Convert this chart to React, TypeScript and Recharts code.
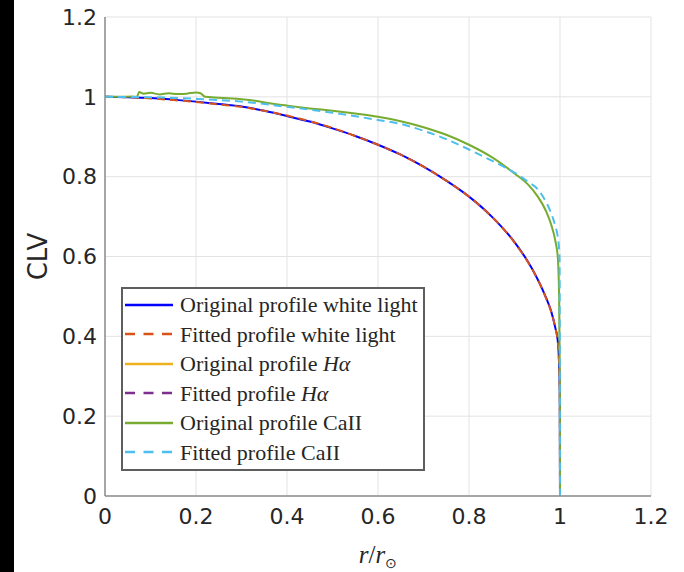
import React from 'react';
import { LineChart, Line, XAxis, YAxis, CartesianGrid, Legend } from 'recharts';

// r / r_sun sample positions and CLV values
const rWhite = [0, 0.05, 0.1, 0.15, 0.2, 0.25, 0.3, 0.35, 0.4, 0.45, 0.5, 0.55, 0.6, 0.65, 0.7, 0.75, 0.8, 0.85, 0.9, 0.93, 0.95, 0.97, 0.98, 0.99, 0.995, 0.998, 0.9995, 1.0];
const clvWhite = [1.0, 0.999, 0.997, 0.993, 0.988, 0.982, 0.976, 0.965, 0.952, 0.938, 0.921, 0.902, 0.88, 0.855, 0.825, 0.79, 0.75, 0.7, 0.636, 0.586, 0.545, 0.495, 0.465, 0.42, 0.39, 0.33, 0.25, 0];
const clvWhiteFit = [1.0, 0.999, 0.996, 0.992, 0.987, 0.981, 0.975, 0.965, 0.953, 0.939, 0.922, 0.902, 0.88, 0.855, 0.825, 0.79, 0.75, 0.7, 0.635, 0.585, 0.545, 0.494, 0.464, 0.42, 0.388, 0.33, 0.25, 0];

const rCa = [0, 0.03, 0.06, 0.07, 0.075, 0.085, 0.1, 0.12, 0.14, 0.16, 0.18, 0.2, 0.21, 0.22, 0.25, 0.28, 0.3, 0.33, 0.36, 0.4, 0.45, 0.5, 0.55, 0.6, 0.65, 0.7, 0.75, 0.8, 0.85, 0.9, 0.93, 0.95, 0.97, 0.98, 0.99, 0.995, 0.998, 0.9995, 1.0];
const clvCa = [1.0, 1.0, 1.001, 1.0, 1.012, 1.008, 1.01, 1.006, 1.009, 1.007, 1.008, 1.011, 1.009, 1.0, 0.998, 0.996, 0.994, 0.99, 0.984, 0.978, 0.971, 0.965, 0.958, 0.95, 0.939, 0.924, 0.905, 0.88, 0.849, 0.808, 0.78, 0.752, 0.712, 0.682, 0.638, 0.6, 0.5, 0.3, 0];

const rCaFit = [0, 0.1, 0.2, 0.3, 0.4, 0.5, 0.6, 0.65, 0.7, 0.75, 0.8, 0.85, 0.9, 0.93, 0.95, 0.97, 0.98, 0.99, 0.995, 0.999, 1.0];
const clvCaFit = [1.0, 0.999, 0.995, 0.988, 0.975, 0.96, 0.942, 0.932, 0.915, 0.894, 0.868, 0.84, 0.81, 0.787, 0.77, 0.735, 0.71, 0.675, 0.65, 0.6, 0];

const xTicks = [0, 0.2, 0.4, 0.6, 0.8, 1, 1.2];
const yTicks = [0, 0.2, 0.4, 0.6, 0.8, 1, 1.2];

const legendNames = [
  'Original profile white light',
  'Fitted profile white light',
  'Original profile Hα',
  'Fitted profile Hα',
  'Original profile CaII',
  'Fitted profile CaII',
];
const legendColors = ['#0000ff', '#D95319', '#EDB120', '#7E2F8E', '#77AC30', '#4DBEEE'];
const legendDashed = [false, true, false, true, false, true];

const whiteData = rWhite.map((r, i) => ({ r, v: clvWhite[i] }));
const whiteFitData = rWhite.map((r, i) => ({ r, v: clvWhiteFit[i] }));
const caData = rCa.map((r, i) => ({ r, v: clvCa[i] }));
const caFitData = rCaFit.map((r, i) => ({ r, v: clvCaFit[i] }));

const TICK_FONT = { fontSize: 22, fill: '#262626', fontFamily: '"DejaVu Sans", sans-serif' };
const AXIS_LINE = { stroke: '#8c8c8c', strokeWidth: 1.5 };
const INNER_TICK = { stroke: '#262626', strokeWidth: 1 };

const renderName = (n: string) => {
  if (n.endsWith('Hα')) {
    return (
      <>
        {n.slice(0, -2)}
        <span style={{ fontStyle: 'italic' }}>Hα</span>
      </>
    );
  }
  return n;
};

const LegendBox = () => (
  <div
    style={{
      width: 304,
      height: 184,
      boxSizing: 'border-box',
      border: '2px solid #5e5e5e',
      background: '#fff',
      paddingTop: 1,
    }}
  >
    {legendNames.map((n, i) => (
      <div key={n} style={{ display: 'flex', alignItems: 'center', height: 29.5 }}>
        <svg width={57} height={10} style={{ flex: 'none' }}>
          <line
            x1={2}
            x2={50}
            y1={5}
            y2={5}
            stroke={legendColors[i]}
            strokeWidth={2.5}
            strokeDasharray={legendDashed[i] ? '10 8.5' : undefined}
          />
        </svg>
        <span
          style={{
            fontFamily: '"Liberation Serif", serif',
            fontSize: 22,
            color: '#262626',
            whiteSpace: 'nowrap',
            lineHeight: '29.5px',
          }}
        >
          {renderName(n)}
        </span>
      </div>
    ))}
  </div>
);

const XLabel = (props: any) => {
  const vb = props.viewBox || { x: 105, y: 496, width: 546, height: 76 };
  return (
    <text
      x={vb.x + vb.width / 2}
      y={vb.y + 67}
      textAnchor="middle"
      fontFamily='"Liberation Serif", serif'
      fontSize={25}
      fill="#262626"
    >
      <tspan fontStyle="italic">r</tspan>
      <tspan>/</tspan>
      <tspan fontStyle="italic">r</tspan>
      <tspan fontSize={14} dy={5}>⊙</tspan>
    </text>
  );
};

const YLabel = (props: any) => {
  const vb = props.viewBox || { x: 14, y: 17, width: 91, height: 479 };
  const cx = vb.x + 24;
  const cy = vb.y + vb.height / 2;
  return (
    <text
      x={cx}
      y={cy}
      textAnchor="middle"
      dominantBaseline="central"
      transform={`rotate(-90, ${cx}, ${cy})`}
      fontFamily='"DejaVu Sans", sans-serif'
      fontSize={26}
      fill="#262626"
    >
      CLV
    </text>
  );
};

export default function App() {
  return (
    <div style={{ position: 'absolute', left: 0, top: 0, width: 684, height: 572, background: '#fff' }}>
      <div style={{ position: 'absolute', left: 0, top: 0, width: 14, height: 572, background: '#000' }} />
      <LineChart width={684} height={572} margin={{ top: 17, right: 33, bottom: 0, left: 14 }}>
        <CartesianGrid stroke="#e3e3e3" strokeWidth={1} />
        <XAxis
          dataKey="r"
          type="number"
          domain={[0, 1.2]}
          ticks={xTicks}
          interval={0}
          allowDataOverflow
          height={76}
          tickLine={false}
          tickSize={0}
          tickMargin={12}
          tick={TICK_FONT}
          axisLine={AXIS_LINE}
          label={<XLabel />}
        />
        <XAxis
          xAxisId="xb"
          type="number"
          domain={[0, 1.2]}
          ticks={xTicks}
          interval={0}
          allowDataOverflow
          orientation="bottom"
          mirror
          height={0}
          tickSize={5}
          tickFormatter={() => ''}
          axisLine={false}
          tickLine={INNER_TICK}
        />
        <XAxis
          xAxisId="xt"
          type="number"
          domain={[0, 1.2]}
          ticks={xTicks}
          interval={0}
          allowDataOverflow
          orientation="top"
          mirror
          height={0}
          tickSize={5}
          tickFormatter={() => ''}
          axisLine={AXIS_LINE}
          tickLine={INNER_TICK}
        />
        <YAxis
          type="number"
          domain={[0, 1.2]}
          ticks={yTicks}
          interval={0}
          allowDataOverflow
          width={91}
          tickLine={false}
          tickSize={0}
          tickMargin={8}
          tick={TICK_FONT}
          axisLine={AXIS_LINE}
          label={<YLabel />}
        />
        <YAxis
          yAxisId="yl"
          type="number"
          domain={[0, 1.2]}
          ticks={yTicks}
          interval={0}
          allowDataOverflow
          orientation="left"
          mirror
          width={0}
          tickSize={5}
          tickFormatter={() => ''}
          axisLine={false}
          tickLine={INNER_TICK}
        />
        <YAxis
          yAxisId="yr"
          type="number"
          domain={[0, 1.2]}
          ticks={yTicks}
          interval={0}
          allowDataOverflow
          orientation="right"
          mirror
          width={0}
          tickSize={5}
          tickFormatter={() => ''}
          axisLine={AXIS_LINE}
          tickLine={INNER_TICK}
        />
        <Line data={whiteData} dataKey="v" type="monotone" stroke="#0000ff" strokeWidth={2} dot={false} isAnimationActive={false} name={legendNames[0]} />
        <Line data={whiteFitData} dataKey="v" type="monotone" stroke="#D95319" strokeWidth={2} strokeDasharray="8 5" dot={false} isAnimationActive={false} name={legendNames[1]} />
        <Line data={caData} dataKey="v" type="monotone" stroke="#77AC30" strokeWidth={2} dot={false} isAnimationActive={false} name={legendNames[4]} />
        <Line data={caFitData} dataKey="v" type="monotone" stroke="#4DBEEE" strokeWidth={2} strokeDasharray="8 5" dot={false} isAnimationActive={false} name={legendNames[5]} />
        <Legend
          layout="vertical"
          align="center"
          verticalAlign="middle"
          wrapperStyle={{ left: 121, top: 287, width: 304 }}
          content={<LegendBox />}
        />
      </LineChart>
    </div>
  );
}
